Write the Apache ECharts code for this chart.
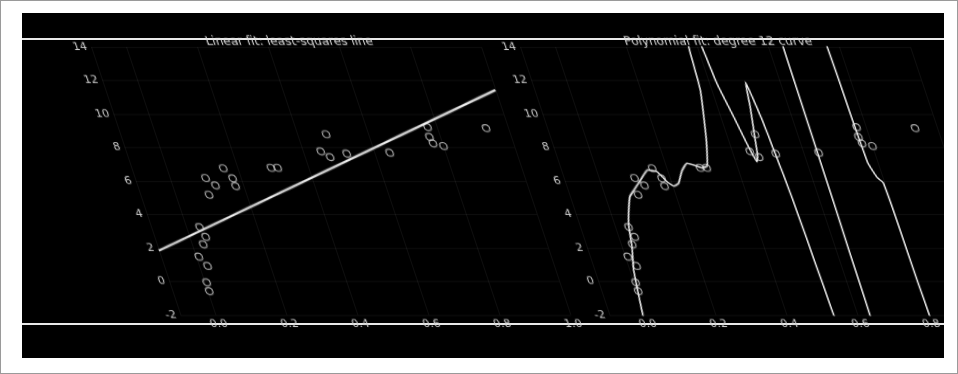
<!DOCTYPE html>
<html>
<head>
<meta charset="utf-8">
<script src="https://cdn.jsdelivr.net/npm/echarts@6/dist/echarts.min.js"></script>
<style>
  html, body { margin: 0; padding: 0; background: #ffffff; }
  #page { position: relative; width: 958px; height: 374px; box-sizing: border-box; border: 1px solid #9a9a9a; background: #ffffff; overflow: hidden; }
  #frame { position: absolute; left: 21px; top: 12px; width: 922px; height: 345px; background: #000000; overflow: hidden; }
  .rule { position: absolute; left: 0; width: 100%; height: 2px; background: #e8e8e8; }
  #chart { position: absolute; left: 0; top: 0; width: 1000px; height: 345px; transform-origin: 0 310px; transform: skewX(18.43deg); }
</style>
</head>
<body>
<div id="page">
  <div id="frame">
    <div class="rule" style="top:25px"></div>
    <div class="rule" style="top:310px"></div>
    <div id="chart"></div>
  </div>
</div>
<script>
// Observations shared by both panels
const pointX = [0.037, 0.045, 0.031, 0.007, 0.023, 0.005, 0.004, 0.100, 0.121, 0.094, 0.159, 0.176, 0.177,
                0.294, 0.313, 0.481, 0.450, 0.471, 0.521, 0.643, 0.774, 0.770, 0.774, 0.801, 0.938];
const pointY = [3.25, 2.67, 2.22, 1.48, 0.93, -0.05, -0.57, 6.18, 5.74, 5.18, 6.76, 6.16, 5.70,
                6.79, 6.79, 8.79, 7.77, 7.43, 7.63, 7.69, 9.22, 8.63, 8.25, 8.09, 9.16];

// Straight-line fit, end points over the axis range
const lineX = [-0.1, 1.0];
const lineY = [1.84, 11.43];

// High-order polynomial fit, sampled along x (runs far outside the visible range)
const curveX = [-0.009, -0.006, 0.002, 0.011, 0.028, 0.038, 0.050, 0.069, 0.087, 0.115, 0.145, 0.169, 0.188,
                0.203, 0.219, 0.240, 0.262, 0.279, 0.300, 0.316, 0.338, 0.368, 0.376, 0.395, 0.413, 0.421,
                0.437, 0.449, 0.460, 0.468, 0.476, 0.493, 0.503, 0.509, 0.515, 0.519, 0.524, 0.527, 0.529,
                0.531, 0.533, 0.536, 0.585, 0.634, 0.637, 0.640, 0.643, 0.700, 0.766, 0.769, 0.772, 0.785,
                0.797, 0.800, 0.801, 0.803, 0.830];
const curveY = [-2.6, -2.06, -0.7, 0.69, 2.08, 3.27, 4.07, 5.06, 5.46, 6.06, 6.66, 6.56, 5.96,
                5.70, 5.86, 6.6, 7.06, 6.96, 6.79, 6.9, 8.45, 11.43, 14.02, 16.5, 14.0, 11.83,
                9.84, 8.25, 7.15, 7.5, 8.45, 10.44, 11.9, 10.84, 9.46, 7.85, 5.86, 3.87, 1.88,
                -0.11, -2.0, -3.0, -30, -3, 2, 8, 14.5, 40, 14.5, 10.0, 7.1, 6.2,
                5.9, 3.0, -0.1, -2.5, -40];

const titles = ['Linear fit: least-squares line', 'Polynomial fit: degree 12 curve'];
const xRange = [-0.1, 1.0];
const yRange = [-2, 14];
const yStep = 2;

const points = pointX.map((x, i) => [x, pointY[i]]);
const linePts = lineX.map((x, i) => [x, lineY[i]]);
const curvePts = curveX.map((x, i) => [x, curveY[i]]);

const labelColor = '#cfcfcf';
const gridBoxes = [
  { left: 161, width: 390, top: 34, height: 268 },
  { left: 590, width: 390, top: 34, height: 268 }
];

function xAxisFor(i) {
  return {
    type: 'value', gridIndex: i, min: xRange[0], max: xRange[1],
    axisLine: { show: false }, axisTick: { show: false },
    splitLine: { show: true, lineStyle: { color: 'rgba(255,255,255,0.06)', width: 1 } },
    axisLabel: { color: labelColor, fontSize: 11, margin: 4, showMinLabel: false,
                 formatter: v => v.toFixed(1), fontFamily: 'DejaVu Sans' }
  };
}
function yAxisFor(i) {
  return {
    type: 'value', gridIndex: i, min: yRange[0], max: yRange[1], interval: yStep,
    axisLine: { show: false }, axisTick: { show: false },
    splitLine: { show: true, lineStyle: { color: 'rgba(255,255,255,0.06)', width: 1 } },
    axisLabel: { color: labelColor, fontSize: 11, margin: 4, fontFamily: 'DejaVu Sans' }
  };
}
const scatterStyle = {
  type: 'scatter', symbol: 'circle', symbolSize: 7,
  itemStyle: { color: 'rgba(0,0,0,0)', borderColor: '#d4d4d4', borderWidth: 1.2 },
  data: points, z: 3
};

const chart = echarts.init(document.getElementById('chart'), null, { renderer: 'canvas' });
chart.setOption({
  backgroundColor: 'transparent',
  animation: false,
  title: titles.map((t, i) => ({
    text: t, left: gridBoxes[i].left + gridBoxes[i].width / 2, top: 18, textAlign: 'center',
    textStyle: { color: '#dcdcdc', fontSize: 12, fontWeight: 'normal', fontFamily: 'DejaVu Sans' }
  })),
  grid: gridBoxes,
  xAxis: [xAxisFor(0), xAxisFor(1)],
  yAxis: [yAxisFor(0), yAxisFor(1)],
  series: [
    Object.assign({ xAxisIndex: 0, yAxisIndex: 0 }, scatterStyle),
    { type: 'line', xAxisIndex: 0, yAxisIndex: 0, data: linePts, showSymbol: false,
      lineStyle: { color: '#f2f2f2', width: 2 }, z: 4 },
    Object.assign({ xAxisIndex: 1, yAxisIndex: 1 }, scatterStyle),
    { type: 'line', xAxisIndex: 1, yAxisIndex: 1, data: curvePts, showSymbol: false, smooth: 0.15,
      clip: true, lineStyle: { color: '#eeeeee', width: 1.6 }, z: 4 }
  ]
});
</script>
</body>
</html>
